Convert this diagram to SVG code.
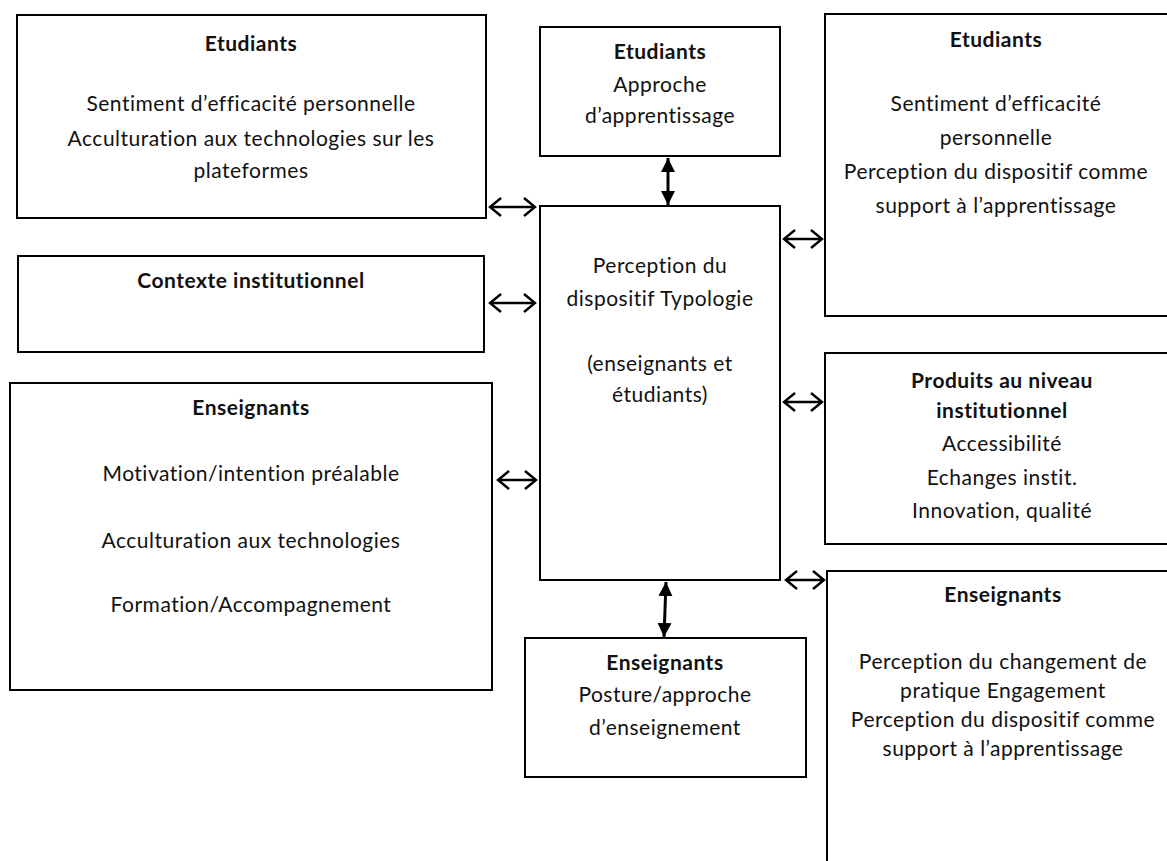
<svg xmlns="http://www.w3.org/2000/svg" width="1167" height="861" viewBox="0 0 1167 861">
<style>
.box{fill:#fff;stroke:#000;stroke-width:2}
text{font-family:Lato,"Open Sans",sans-serif;font-size:21px;letter-spacing:0.5px;fill:#111;text-anchor:middle}
.b{font-weight:bold}
.oa{fill:none;stroke:#000;stroke-width:2.4}
.va{stroke:#000;stroke-width:3;fill:none}
</style>
<defs>
<marker id="tri" viewBox="0 0 10 10" refX="10" refY="5" markerWidth="4.7" markerHeight="4.7" orient="auto-start-reverse" markerUnits="strokeWidth">
<path d="M0,0 L10,5 L0,10 Z" fill="#000"/>
</marker>
</defs>
<rect width="1167" height="861" fill="#fff"/>
<g id="etudiants-gauche">
<rect class="box" x="17" y="15" width="469" height="203"/>
<text class="b" x="251" y="51">Etudiants</text>
<text x="251" y="111">Sentiment d’efficacité personnelle</text>
<text x="251" y="146">Acculturation aux technologies sur les</text>
<text x="251" y="178">plateformes</text>
</g>
<g id="etudiants-approche">
<rect class="box" x="540" y="27" width="240" height="129"/>
<text class="b" x="660" y="59">Etudiants</text>
<text x="660" y="92">Approche</text>
<text x="660" y="123">d’apprentissage</text>
</g>
<g id="etudiants-droite">
<rect class="box" x="825" y="14" width="350" height="302"/>
<text class="b" x="996" y="47">Etudiants</text>
<text x="996" y="111">Sentiment d’efficacité</text>
<text x="996" y="145">personnelle</text>
<text x="996" y="179">Perception du dispositif comme</text>
<text x="996" y="213">support à l’apprentissage</text>
</g>
<g id="contexte">
<rect class="box" x="18" y="256" width="466" height="96"/>
<text class="b" x="251" y="288">Contexte institutionnel</text>
</g>
<g id="centre">
<rect class="box" x="540" y="206" width="240" height="374"/>
<text x="660" y="273">Perception du</text>
<text x="660" y="306">dispositif Typologie</text>
<text x="660" y="371">(enseignants et</text>
<text x="660" y="402">étudiants)</text>
</g>
<g id="enseignants-gauche">
<rect class="box" x="10" y="383" width="482" height="307"/>
<text class="b" x="251" y="415">Enseignants</text>
<text x="251" y="481">Motivation/intention préalable</text>
<text x="251" y="548">Acculturation aux technologies</text>
<text x="251" y="612">Formation/Accompagnement</text>
</g>
<g id="produits">
<rect class="box" x="825" y="353" width="350" height="191"/>
<text class="b" x="1002" y="388">Produits au niveau</text>
<text class="b" x="1002" y="418">institutionnel</text>
<text x="1002" y="451">Accessibilité</text>
<text x="1002" y="485">Echanges instit.</text>
<text x="1002" y="518">Innovation, qualité</text>
</g>
<g id="enseignants-droite">
<rect class="box" x="827" y="571" width="350" height="300"/>
<text class="b" x="1003" y="602">Enseignants</text>
<text x="1003" y="669">Perception du changement de</text>
<text x="1003" y="698">pratique Engagement</text>
<text x="1003" y="727">Perception du dispositif comme</text>
<text x="1003" y="756">support à l’apprentissage</text>
</g>
<g id="enseignants-posture">
<rect class="box" x="525" y="638" width="281" height="139"/>
<text class="b" x="665" y="670">Enseignants</text>
<text x="665" y="702">Posture/approche</text>
<text x="665" y="735">d’enseignement</text>
</g>
<g id="connecteurs">
<path class="oa" d="M490,207 H535 M501,198 L490,207 L501,216 M524,198 L535,207 L524,216"/>
<path class="oa" d="M490,303 H535 M501,294 L490,303 L501,312 M524,294 L535,303 L524,312"/>
<path class="oa" d="M498,480 H536 M509,471 L498,480 L509,489 M525,471 L536,480 L525,489"/>
<path class="oa" d="M784,239 H822 M795,230 L784,239 L795,248 M811,230 L822,239 L811,248"/>
<path class="oa" d="M784,402 H822 M795,393 L784,402 L795,411 M811,393 L822,402 L811,411"/>
<path class="oa" d="M786,580 H824 M797,571 L786,580 L797,589 M813,571 L824,580 L813,589"/>
<line class="va" x1="668" y1="158" x2="668" y2="205" marker-start="url(#tri)" marker-end="url(#tri)"/>
<line class="va" x1="666" y1="582" x2="664" y2="637" marker-start="url(#tri)" marker-end="url(#tri)"/>
</g>
</svg>
